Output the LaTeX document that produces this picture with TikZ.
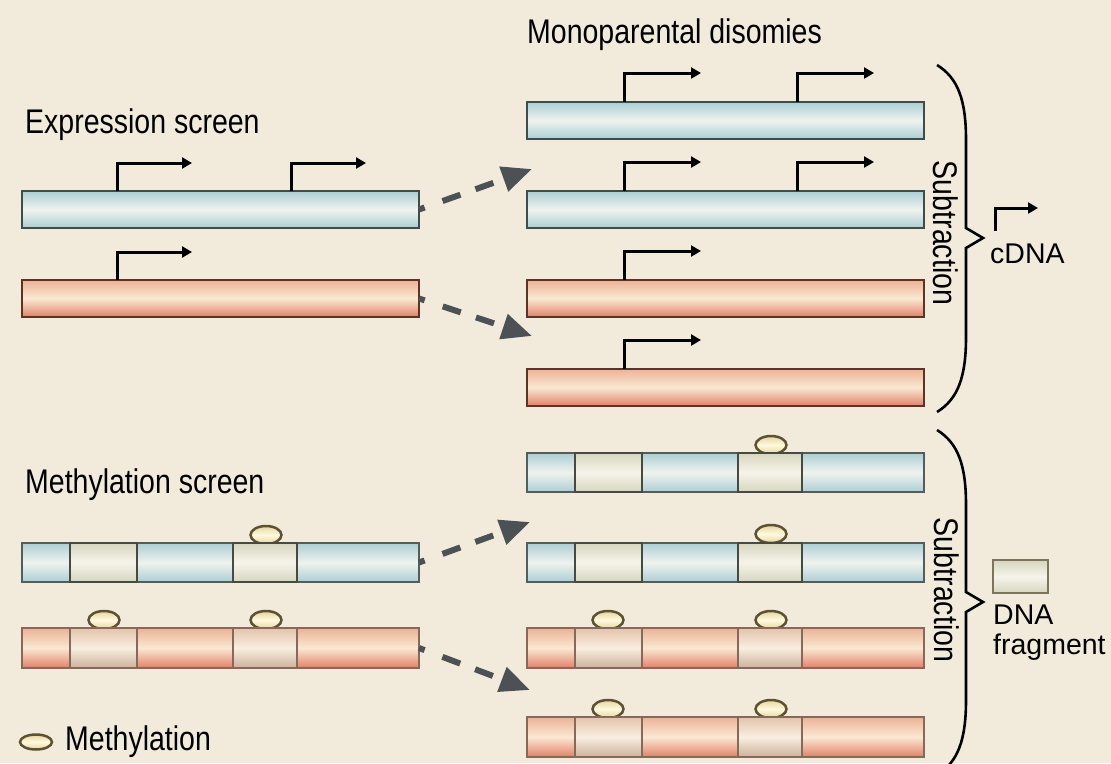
\documentclass[tikz,border=0pt]{standalone}
\usepackage{fontspec}
\setmainfont{Liberation Sans}
\usetikzlibrary{arrows.meta,shapes.geometric,calc}
\definecolor{bg}{RGB}{242,235,220}
\definecolor{blueline}{RGB}{62,76,74}
\definecolor{bluee}{RGB}{172,206,212}
\definecolor{bluem}{RGB}{240,243,238}
\definecolor{redline}{RGB}{92,52,38}
\definecolor{redline2}{RGB}{135,105,90}
\definecolor{redt}{RGB}{236,178,150}
\definecolor{redm}{RGB}{250,232,210}
\definecolor{redb}{RGB}{226,128,104}
\definecolor{fragbt}{RGB}{214,214,192}
\definecolor{fragbm}{RGB}{246,244,234}
\definecolor{fragrt}{RGB}{226,196,172}
\definecolor{fragrm}{RGB}{249,238,224}
\definecolor{fragline}{RGB}{70,74,66}
\definecolor{ovalline}{RGB}{92,82,50}
\definecolor{ovale}{RGB}{228,212,160}
\definecolor{ovalm}{RGB}{255,250,222}
\definecolor{arrowgray}{RGB}{75,81,84}
\newcommand{\vsc}[1]{\scalebox{1}[1.2]{#1}}
\begin{document}
\begin{tikzpicture}[x=1pt,y=-1pt,
  bar/.style={rectangle, inner sep=0pt, outer sep=0pt, anchor=north west, line width=2.5pt, minimum width=397pt, minimum height=37pt},
  bluebar/.style={bar, draw=blueline, top color=bluee, bottom color=bluee, middle color=bluem},
  redbar/.style={bar, draw=redline, top color=redt, bottom color=redb, middle color=redm},
  mbluebar/.style={bluebar, minimum height=39pt, draw=blueline!90},
  mredbar/.style={redbar, minimum height=40pt, draw=redline2},
  fragb/.style={rectangle, inner sep=0pt, outer sep=0pt, anchor=north west, line width=2.5pt, draw=fragline, top color=fragbt, bottom color=fragbt, middle color=fragbm},
  fragr/.style={rectangle, inner sep=0pt, outer sep=0pt, anchor=north west, line width=2.5pt, draw=redline2, top color=fragrt, bottom color=fragrt!90!black, middle color=fragrm},
  meth/.style={ellipse, inner sep=0pt, outer sep=0pt, draw=ovalline, line width=2.5pt, minimum width=31pt, minimum height=18pt, top color=ovale, bottom color=ovale, middle color=ovalm},
  prom/.style={line width=3pt, black, -{Triangle[length=10pt,width=11pt]}},
  dasharrow/.style={line width=6pt, arrowgray, dash pattern=on 6pt off 19pt on 19pt off 16pt on 19pt off 60pt, -{Triangle[length=30pt,width=25pt]}},
  brace/.style={line width=2.6pt, black, line join=miter},
  lbl/.style={inner sep=0pt, anchor=base west, font=\fontsize{28.5}{30}\selectfont}
]
\fill[bg] (0,0) rectangle (1111,763);
\useasboundingbox (0,0) rectangle (1111,763);
\clip (0,0) rectangle (1111,763);

% ---------- texts ----------
\node[lbl] (tmono) at (527,43) {\vsc{Monoparental disomies}};
\node[lbl] (texpr) at (25,133) {\vsc{Expression screen}};
\node[lbl] (tmeth) at (25,493) {\vsc{Methylation screen}};
\node[lbl] (tmleg) at (65,750) {\vsc{Methylation}};
\node[lbl] (tcdna) at (990,263) {cDNA};
\node[lbl] (tdna) at (993,624) {DNA};
\node[lbl] (tfrag) at (993,654) {fragment};
\node[lbl, anchor=center, rotate=-90] (sub1) at (946,233) {\vsc{Subtraction}};
\node[lbl, anchor=center, rotate=-90] (sub2) at (947,590) {\vsc{Subtraction}};

% ---------- expression screen ----------
\node[bluebar] (L1) at (22,191) {};
\node[redbar]  (L2) at (22,280) {};
\node[bluebar] (R1) at (527,102) {};
\node[bluebar] (R2) at (527,191) {};
\node[redbar]  (R3) at (527,280) {};
\node[redbar]  (R4) at (527,369) {};

\draw[prom] ([xshift=95pt]L1.north west) |- ++(75,-28);
\draw[prom] ([xshift=269pt]L1.north west) |- ++(75,-28);
\draw[prom] ([xshift=95pt]L2.north west) |- ++(75,-28);
\draw[prom] ([xshift=97pt]R1.north west) |- ++(77,-29);
\draw[prom] ([xshift=270pt]R1.north west) |- ++(77,-29);
\draw[prom] ([xshift=97pt]R2.north west) |- ++(77,-29);
\draw[prom] ([xshift=270pt]R2.north west) |- ++(77,-29);
\draw[prom] ([xshift=97pt]R3.north west) |- ++(77,-29);
\draw[prom] ([xshift=97pt]R4.north west) |- ++(77,-29);

\coordinate (t1) at (532,169);
\coordinate (t2) at (532,336);
\draw[dasharrow] (L1.east) -- (t1);
\draw[dasharrow] (L2.east) -- (t2);

% ---------- methylation screen ----------
\node[meth] (o1) at (266,535) {};
\node[meth] (o2) at (104,620) {};
\node[meth] (o3) at (266,620) {};
\node[meth] (o4) at (771,445) {};
\node[meth] (o5) at (771,534) {};
\node[meth] (o6) at (608,620) {};
\node[meth] (o7) at (771,620) {};
\node[meth] (o8) at (608,709) {};
\node[meth] (o9) at (771,709) {};

\node[mbluebar] (M1) at (22,543) {};
\node[mredbar]  (M2) at (22,628) {};
\node[mbluebar] (N1) at (527,453) {};
\node[mbluebar] (N2) at (527,543) {};
\node[mredbar]  (N3) at (527,628) {};
\node[mredbar]  (N4) at (527,717) {};

\foreach \b/\h in {M1/39,N1/39,N2/39}{
  \node[fragb, minimum width=67pt, minimum height=\h pt] at ([xshift=48pt]\b.north west) {};
  \node[fragb, minimum width=64pt, minimum height=\h pt] at ([xshift=211pt]\b.north west) {};
}
\foreach \b/\h in {M2/40,N3/40,N4/40}{
  \node[fragr, minimum width=67pt, minimum height=\h pt] at ([xshift=48pt]\b.north west) {};
  \node[fragr, minimum width=64pt, minimum height=\h pt] at ([xshift=211pt]\b.north west) {};
}

\coordinate (t3) at (530,522);
\coordinate (t4) at (530,690);
\draw[dasharrow] (M1.east) -- (t3);
\draw[dasharrow] (M2.east) -- (t4);

% ---------- braces ----------
\draw[brace] (937,65) .. controls (958,78) and (966,100) .. (966,140) -- (966,228) -- (983,238) -- (966,248) -- (966,337) .. controls (966,377) and (958,399) .. (937,412);
\draw[brace] (937,430) .. controls (958,443) and (966,465) .. (966,505) -- (966,592) -- (983,602) -- (966,612) -- (966,700) .. controls (966,740) and (958,762) .. (937,775);

% ---------- legends ----------
\draw[prom] (995,231) |- ++(43,-23);
\node[fragb, draw=ovalline!80, minimum width=55pt, minimum height=33pt] (legbox) at (993,560) {};
\node[meth, minimum width=32pt, minimum height=15pt] (legoval) at (36,742) {};
\end{tikzpicture}
\end{document}
